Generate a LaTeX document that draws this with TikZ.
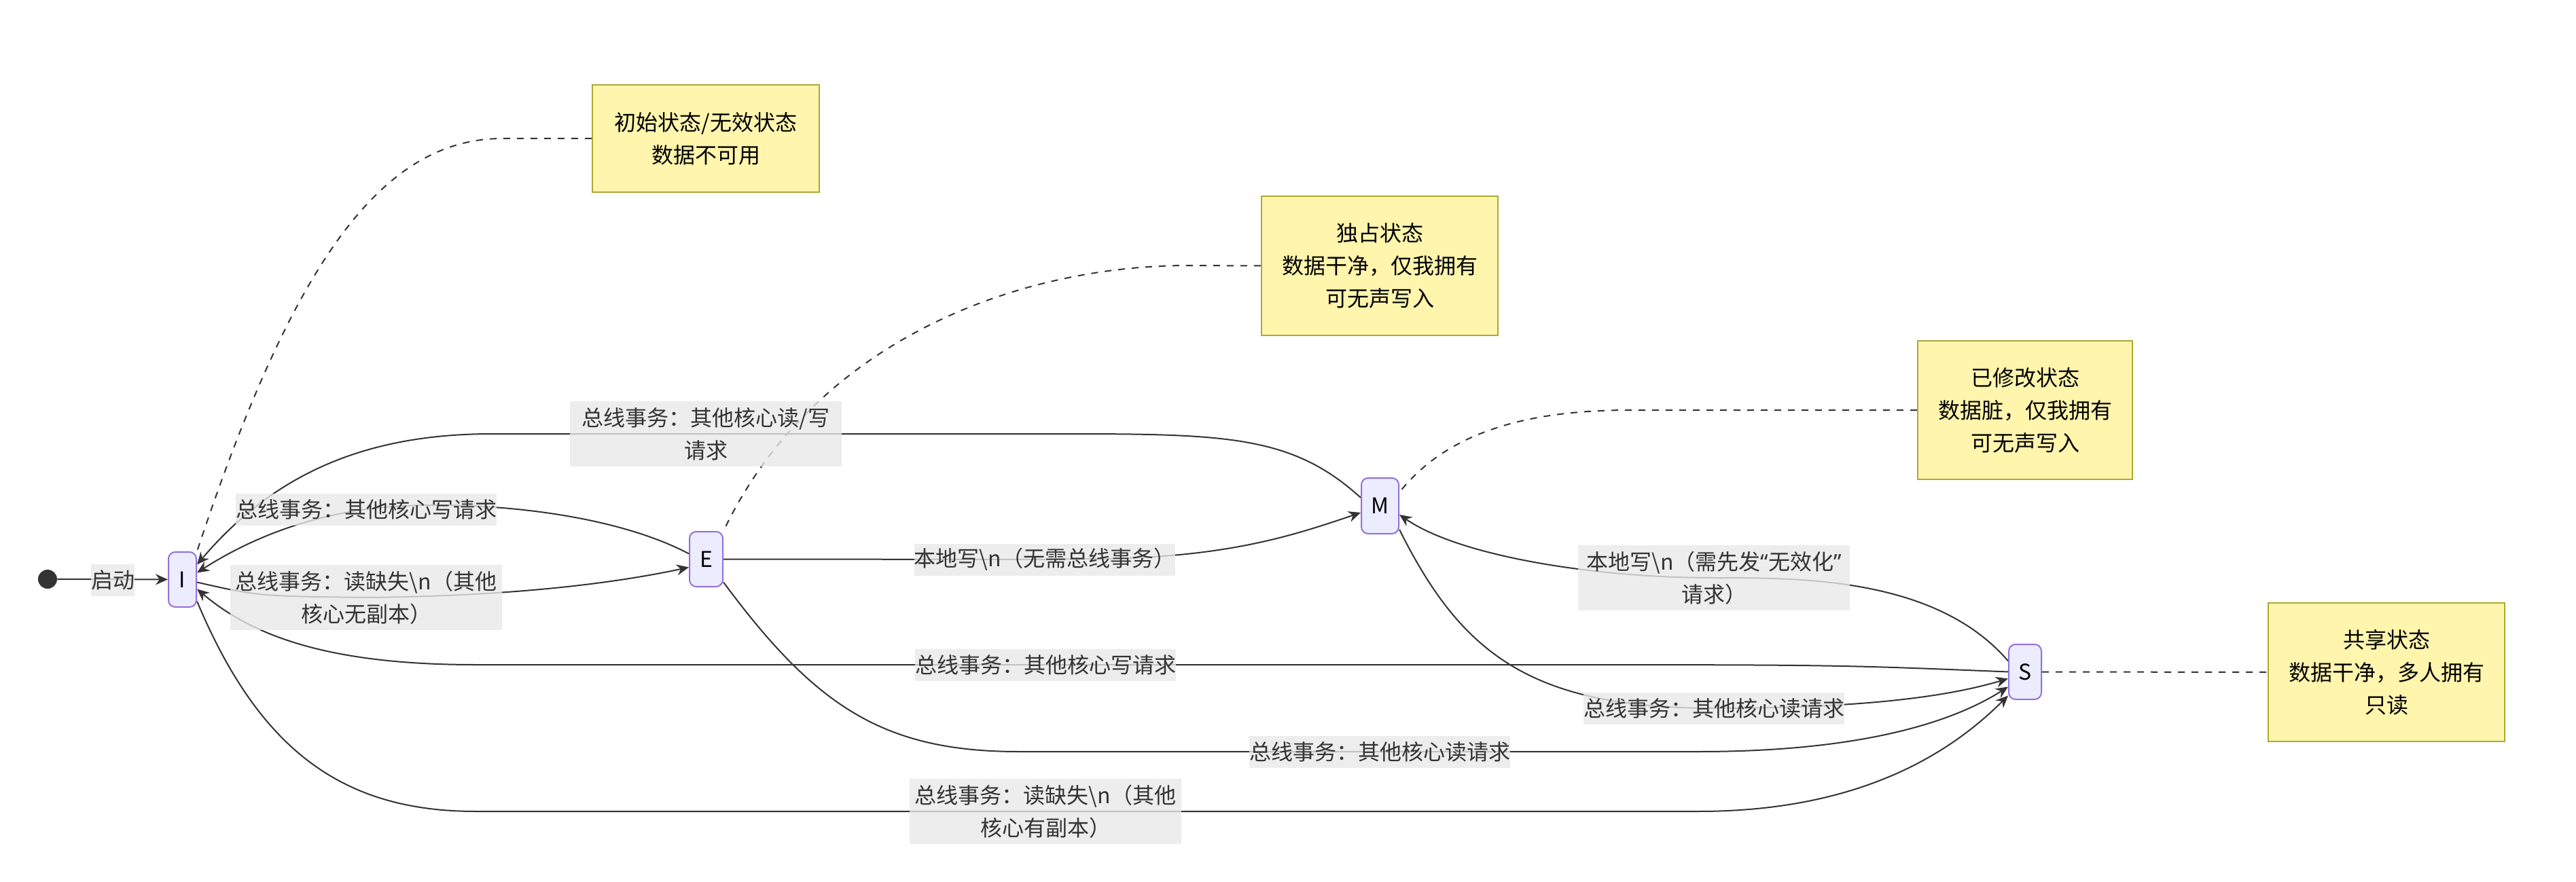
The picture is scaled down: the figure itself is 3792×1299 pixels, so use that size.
\documentclass[tikz,border=0pt]{standalone}
\usepackage{fontspec}
\setmainfont{Noto Sans CJK SC}
\newfontfamily\latinq{Noto Sans}
\usetikzlibrary{arrows.meta,backgrounds}
\definecolor{edgec}{HTML}{333333}
\definecolor{statefill}{HTML}{ECECFF}
\definecolor{stateborder}{HTML}{9370DB}
\definecolor{notefill}{HTML}{FFF5AD}
\definecolor{noteborder}{HTML}{AAAA33}
\definecolor{labelfill}{HTML}{E8E8E8}
\begin{document}
\begin{tikzpicture}[x=0.5pt,y=-0.5pt,
  font=\fontsize{16pt}{24pt}\selectfont,
  state/.style={draw=stateborder,fill=statefill,line width=1pt,rounded corners=5pt,inner sep=0pt,minimum height=40.5pt},
  notebox/.style={draw=noteborder,fill=notefill,line width=1.2pt,inner sep=0pt,align=center,text=black},
  elabel/.style={fill=labelfill,fill opacity=0.8,text opacity=1,text=edgec,inner sep=0pt,align=center,minimum height=23.5pt},
  twoline/.style={elabel,minimum width=200pt,minimum height=48pt},
  edge/.style={draw=edgec,line width=1pt,-{Stealth[length=9pt,width=8pt]}},
  notelink/.style={draw=edgec,line width=1pt,dash pattern=on 5pt off 5pt},
]
\useasboundingbox (0,0) rectangle (3792,1299);

% states
\node[circle,fill=edgec,minimum size=14pt,inner sep=0pt] (start) at (70,853) {};
\node[state,minimum width=20.5pt] (I) at (268.5,853.5) {I};
\node[state,minimum width=24.5pt] (E) at (1039.5,823.5) {E};
\node[state,minimum width=27.5pt,minimum height=41pt] (M) at (2031.5,745) {M};
\node[state,minimum width=24pt] (S) at (2981,989.5) {S};

% notes
\node[notebox,minimum width=167pt,minimum height=79pt] (N1) at (1039,204) {初始状态/无效状态\\数据不可用};
\node[notebox,minimum width=174pt,minimum height=102.5pt] (N2) at (2031,391.5) {独占状态\\数据干净，仅我拥有\\可无声写入};
\node[notebox,minimum width=158pt,minimum height=102pt] (N3) at (2981,604) {已修改状态\\数据脏，仅我拥有\\可无声写入};
\node[notebox,minimum width=174pt,minimum height=102pt] (N4) at (3513,990) {共享状态\\数据干净，多人拥有\\只读};

% edge labels
\node[elabel] (L0) at (166,854) {启动};
\node[twoline] (L2) at (539,880) {总线事务：读缺失\textbackslash n（其他\\核心无副本）};
\node[elabel] (L3) at (539,750) {总线事务：其他核心写请求};
\node[twoline] (L4) at (1039,639) {总线事务：其他核心读/写\\请求};
\node[elabel] (L5) at (1538,824) {本地写\textbackslash n（无需总线事务）};
\node[twoline] (L6) at (2523,851) {本地写\textbackslash n（需先发{\latinq “}无效化{\latinq ”}\\请求）};
\node[elabel] (L7) at (2523,1043) {总线事务：其他核心读请求};
\node[elabel] (L8) at (1539,979) {总线事务：其他核心写请求};
\node[elabel] (L9) at (2031,1107) {总线事务：其他核心读请求};
\node[twoline] (L10) at (1539,1195) {总线事务：读缺失\textbackslash n（其他\\核心有副本）};

\begin{scope}[on background layer]
% start
\draw[edge] (start) -- (I);
% I -> E
\draw[edge] ([yshift=-2pt]I.east) .. controls (380,878) .. (L2.center) .. controls (750,878) and (900,860) .. ([yshift=-6pt]E.west);
% E -> I
\draw[edge] ([yshift=4pt]E.west) .. controls (880,745) and (650,735) .. (L3.center) .. controls (430,765) and (350,805) .. ([yshift=5pt]I.east);
% M -> I
\draw[edge] ([yshift=6pt]M.west) .. controls (1900,639) and (1800,639) .. (1546,639) -- (L4.center) -- (725,639) .. controls (550,639) and (410,690) .. ([yshift=11pt]I.east);
% E -> M
\draw[edge] (E.east) -- (L5.center) -- (1600,823) .. controls (1800,823) and (1900,790) .. ([yshift=-5pt]M.west);
% S -> M
\draw[edge] ([yshift=8pt]S.west) .. controls (2850,850) and (2650,851) .. (L6.center) .. controls (2350,851) and (2150,820) .. ([yshift=-6.5pt]M.east);
% M -> S
\draw[edge] ([yshift=-17.5pt]M.east) .. controls (2150,960) and (2250,1043) .. (L7.center) .. controls (2750,1043) and (2870,1025) .. ([yshift=-5pt]S.west);
% S -> I
\draw[edge] (S.west) .. controls (2700,979) .. (2200,979) -- (L8.center) -- (700,979) .. controls (480,979) and (370,935) .. ([yshift=-7pt]I.east);
% E -> S
\draw[edge] ([yshift=-17pt]E.east) .. controls (1200,1040) and (1300,1107) .. (1500,1107) -- (L9.center) -- (2500,1107) .. controls (2750,1107) and (2880,1060) .. ([yshift=-11pt]S.west);
% I -> S
\draw[edge] ([yshift=-16pt]I.east) .. controls (380,1100) and (500,1195) .. (700,1195) -- (L10.center) -- (2500,1195) .. controls (2750,1195) and (2880,1100) .. ([yshift=-17.5pt]S.west);
% note links
\draw[notelink] (N1.west) -- (740,204) .. controls (560,204) and (430,390) .. (I.north east);
\draw[notelink] (N2.west) -- (1750,391) .. controls (1500,391) and (1200,500) .. (E.north east);
\draw[notelink] (N3.west) -- (2400,604) .. controls (2220,604) and (2120,650) .. ([yshift=10pt]M.east);
\draw[notelink] (S.east) -- (N4.west);
\end{scope}
\end{tikzpicture}
\end{document}
